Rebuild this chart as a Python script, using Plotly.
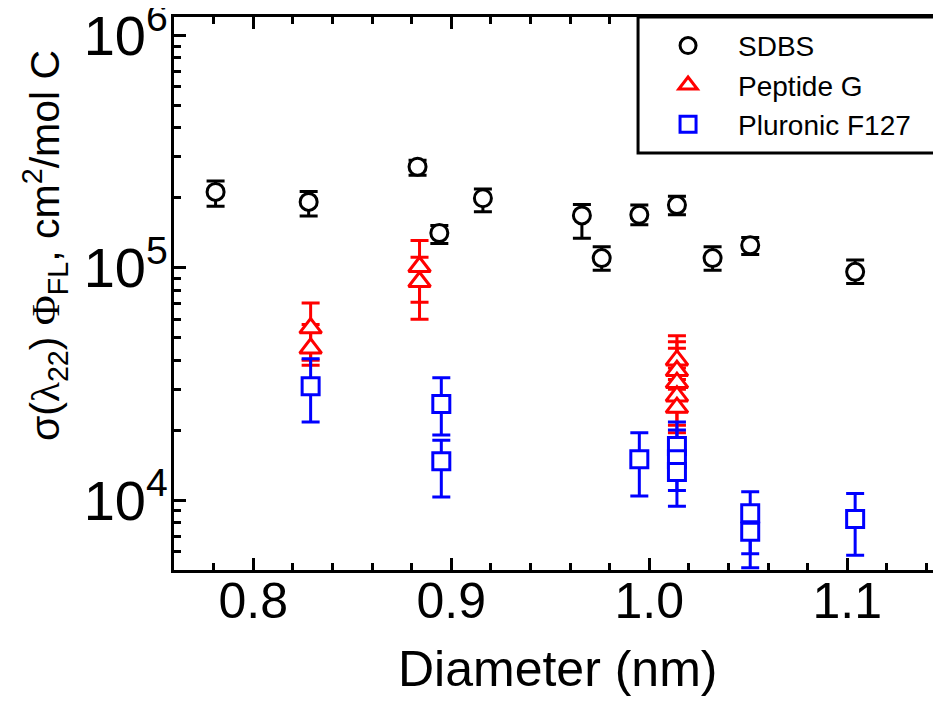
import plotly.graph_objects as go
import numpy as np

# ---- data ----
sdbs_x = [0.781, 0.828, 0.883, 0.894, 0.916, 0.966, 0.976, 0.995, 1.014, 1.032, 1.051, 1.104]
sdbs_y = [2.12e5, 1.92e5, 2.72e5, 1.41e5, 1.99e5, 1.68e5, 1.10e5, 1.69e5, 1.86e5, 1.10e5, 1.25e5, 9.6e4]
sdbs_ep = [0.24e5, 0.21e5, 0.18e5, 0.11e5, 0.19e5, 0.19e5, 0.13e5, 0.17e5, 0.17e5, 0.13e5, 0.10e5, 0.12e5]
sdbs_em = [0.28e5, 0.25e5, 0.22e5, 0.14e5, 0.25e5, 0.34e5, 0.125e5, 0.16e5, 0.17e5, 0.125e5, 0.11e5, 0.105e5]

pep_x = [0.829, 0.829, 0.884, 0.884, 1.014, 1.014, 1.014, 1.014, 1.014]
pep_y = [5.5e4, 4.5e4, 1.01e5, 8.7e4, 4.0e4, 3.6e4, 3.2e4, 2.8e4, 2.5e4]
pep_ep = [1.55e4, 1.2e4, 3.0e4, 2.4e4, 1.1e4, 1.2e4, 1.3e4, 0.9e4, 0.8e4]
pep_em = [1.5e4, 0.7e4, 3.0e4, 2.7e4, 1.0e4, 0.9e4, 0.8e4, 0.7e4, 0.55e4]

plu_x = [0.829, 0.895, 0.895, 0.995, 1.014, 1.014, 1.014, 1.051, 1.051, 1.104]
plu_y = [3.09e4, 2.59e4, 1.47e4, 1.50e4, 1.71e4, 1.5e4, 1.32e4, 8.77e3, 7.31e3, 8.28e3]
plu_ep = [0.97e4, 0.77e4, 0.34e4, 0.45e4, 0.46e4, 0.5e4, 0.5e4, 0.21e4, 0.2e4, 0.24e4]
plu_em = [0.92e4, 0.685e4, 0.44e4, 0.46e4, 0.46e4, 0.4e4, 0.38e4, 0.29e4, 0.22e4, 0.25e4]

x_tickvals = [0.8, 0.9, 1.0, 1.1]
x_ticktext = ["0.8", "0.9", "1.0", "1.1"]
x_minor = [0.78, 0.82, 0.84, 0.86, 0.88, 0.92, 0.94, 0.96, 0.98, 1.02, 1.04, 1.06, 1.08, 1.12, 1.14]
y_tickvals = [1e4, 1e5, 1e6]
y_ticktext = ["10<sup>4</sup>", "10<sup>5</sup>", "10<sup>6</sup>"]
y_minor = [6e3, 7e3, 8e3, 9e3] + [k * 1e4 for k in range(2, 10)] + [k * 1e5 for k in range(2, 10)]

x_title = "Diameter (nm)"
y_title = ("σ(<span style='font-family:Liberation Serif'>λ</span><sub>22</sub>) "
           "<span style='font-family:Liberation Serif'>Φ</span><sub>FL</sub>, cm<sup>2</sup>/mol C")

FONT = "Liberation Sans, Arial, sans-serif"

fig = go.Figure()


def add(name, x, y, ep, em, color, symbol, size):
    fig.add_trace(go.Scatter(
        x=x, y=y, mode="markers", name=name,
        marker=dict(symbol=symbol, size=size, color="white",
                    line=dict(color=color, width=3)),
        error_y=dict(type="data", symmetric=False, array=ep, arrayminus=em,
                     color=color, thickness=3, width=9),
    ))


add("SDBS", sdbs_x, sdbs_y, sdbs_ep, sdbs_em, "black", "circle", 17)
add("Peptide G", pep_x, pep_y, pep_ep, pep_em, "#ff0000", "triangle-up", 19)
add("Pluronic F127", plu_x, plu_y, plu_ep, plu_em, "#0000ff", "square", 17)

fig.update_layout(
    width=946, height=709, autosize=False,
    margin=dict(l=166, r=4, t=9, b=147, autoexpand=False),
    paper_bgcolor="white", plot_bgcolor="white",
    font=dict(family=FONT, color="black"),
    showlegend=True,
    legend=dict(x=0.598, xanchor="left", y=0.993, yanchor="top",
                bgcolor="rgba(0,0,0,0)", borderwidth=0,
                font=dict(size=28, family=FONT), itemwidth=90, tracegroupgap=0),
    shapes=[dict(type="rect", xref="paper", yref="paper", x0=0.598, x1=1.06,
                 y0=0.754, y1=1.0, line=dict(color="black", width=3),
                 fillcolor="white", layer="above")],
    xaxis=dict(
        range=[0.76, 1.1519], showline=True, linewidth=3, linecolor="black",
        mirror="ticks", ticks="inside", ticklen=12, tickwidth=3, tickcolor="black",
        tickvals=x_tickvals, ticktext=x_ticktext, showgrid=False, zeroline=False,
        tickfont=dict(size=50, family=FONT), ticklabelstandoff=-15,
        ticklabeloverflow="allow", automargin=False,
        minor=dict(tickvals=x_minor, ticks="inside", ticklen=7, tickwidth=3, tickcolor="black"),
    ),
    yaxis=dict(
        type="log", range=[np.log10(5000), np.log10(1.2e6)],
        showline=True, linewidth=3, linecolor="black", mirror="ticks",
        ticks="inside", ticklen=12, tickwidth=3, tickcolor="black",
        tickvals=y_tickvals, ticktext=y_ticktext, showgrid=False, zeroline=False,
        tickfont=dict(size=56, family=FONT), ticklabelstandoff=-8,
        ticklabeloverflow="allow", automargin=False,
        minor=dict(tickvals=y_minor, ticks="inside", ticklen=7, tickwidth=3, tickcolor="black"),
    ),
    annotations=[
        dict(text=x_title, xref="paper", yref="paper", x=0.4936, y=-0.179,
             xanchor="center", yanchor="middle", showarrow=False,
             font=dict(size=50, family=FONT, color="black")),
        dict(text=y_title, xref="paper", yref="paper", x=-0.1662, y=0.586,
             xanchor="center", yanchor="middle", showarrow=False, textangle=-90,
             font=dict(size=41, family=FONT, color="black")),
    ],
)

fig.write_html("out.html")
